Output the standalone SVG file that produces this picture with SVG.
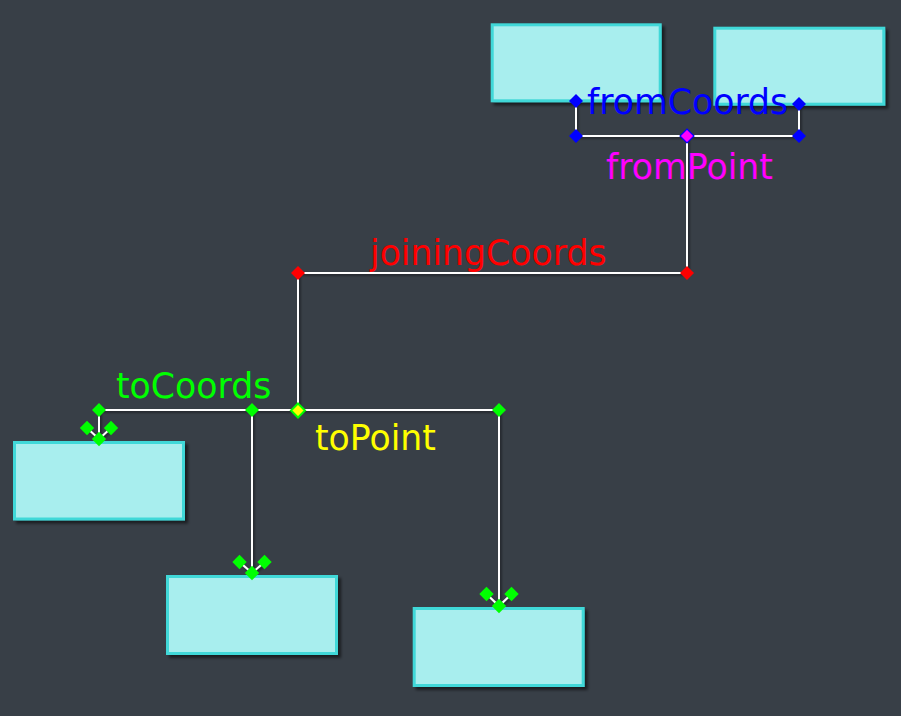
<svg xmlns="http://www.w3.org/2000/svg" xmlns:xlink="http://www.w3.org/1999/xlink" width="901" height="716" viewBox="0 0 901 716">
<style>
.box{fill:#a8eeee;stroke:#40d8d8;stroke-width:3;filter:url(#sh)}
.ln{fill:none;stroke:#ffffff;stroke-width:2;filter:url(#lsh)}
.lbl{font-family:"DejaVu Sans",sans-serif;font-size:34.7px}
.blue{fill:#0000ff}.red{fill:#ff0000}.green{fill:#00ff00}.yellow{fill:#ffff00}.mag{fill:#ff00ff}
</style>
<defs>
<filter id="sh" filterUnits="userSpaceOnUse" x="0" y="0" width="901" height="716">
<feDropShadow dx="3" dy="3" stdDeviation="1.5" flood-color="#000" flood-opacity="0.55"/>
</filter>
<filter id="lsh" filterUnits="userSpaceOnUse" x="0" y="0" width="901" height="716">
<feDropShadow dx="1.5" dy="1.5" stdDeviation="1" flood-color="#000" flood-opacity="0.5"/>
</filter>
<path id="d" d="M0,-7L7,0L0,7L-7,0Z"/>
<path id="dl" d="M0,-7.2L7.2,0L0,7.2L-7.2,0Z"/>
</defs>
<rect width="901" height="716" fill="#383f47"/>

<g id="node-from-a"><rect class="box" x="492.2" y="24.8" width="168" height="76"/></g>
<g id="node-from-b"><rect class="box" x="714.8" y="28.2" width="169" height="76"/></g>
<g id="node-to-a"><rect class="box" x="14.5" y="442.5" width="169" height="76.5"/></g>
<g id="node-to-b"><rect class="box" x="167.5" y="576.5" width="169" height="77"/></g>
<g id="node-to-c"><rect class="box" x="414.2" y="608.5" width="169" height="77"/></g>

<g id="connectors">
<path class="ln" d="M576,101V136H799V104"/>
<path class="ln" d="M687,136V273H298V410"/>
<path class="ln" d="M99,439V410H499V606"/>
<path class="ln" d="M252,410V573"/>
<path class="ln" d="M87,428L99,439L111,428"/>
<path class="ln" d="M239.5,562L252,573L264.5,562"/>
<path class="ln" d="M486.5,594L499,606L511.5,594"/>

<g class="blue">
<use xlink:href="#d" x="576" y="101"/>
<use xlink:href="#d" x="799" y="104"/>
<use xlink:href="#d" x="576" y="136"/>
<use xlink:href="#d" x="799" y="136"/>
</g>
<use xlink:href="#d" x="687" y="136" fill="#ff00ff" stroke="#0000ff" stroke-width="1.2"/>
<g class="red">
<use xlink:href="#d" x="687" y="273"/>
<use xlink:href="#d" x="298" y="273"/>
</g>
<g class="green">
<use xlink:href="#d" x="99" y="410"/>
<use xlink:href="#d" x="252" y="410"/>
<use xlink:href="#d" x="499" y="410"/>
<use xlink:href="#dl" x="87" y="428"/>
<use xlink:href="#dl" x="111" y="428"/>
<use xlink:href="#dl" x="99" y="439"/>
<use xlink:href="#dl" x="239.5" y="562"/>
<use xlink:href="#dl" x="264.5" y="562"/>
<use xlink:href="#dl" x="252" y="573"/>
<use xlink:href="#dl" x="486.5" y="594"/>
<use xlink:href="#dl" x="511.5" y="594"/>
<use xlink:href="#dl" x="499" y="606"/>
</g>
<use xlink:href="#d" x="298" y="410.5" fill="#ffff00" stroke="#00ff00" stroke-width="2"/>
</g>

<g id="labels">
<text class="lbl blue" x="587" y="114">fromCoords</text>
<text class="lbl mag" x="606" y="179">fromPoint</text>
<text class="lbl red" x="370" y="265">joiningCoords</text>
<text class="lbl green" x="116" y="398">toCoords</text>
<text class="lbl yellow" x="315" y="450">toPoint</text>
</g>
</svg>
